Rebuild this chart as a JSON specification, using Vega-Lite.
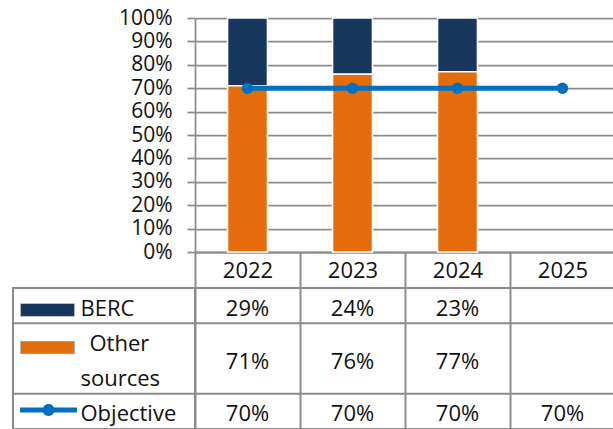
{
  "$schema": "https://vega.github.io/schema/vega-lite/v6.json",
  "padding": {"left": 11, "top": 7, "right": 0, "bottom": 0},
  "datasets": {
    "shares": [
      {"year": "2022", "series": "BERC", "value": 0.29},
      {"year": "2022", "series": "Other sources", "value": 0.71},
      {"year": "2022", "series": "Objective", "value": 0.70},
      {"year": "2023", "series": "BERC", "value": 0.24},
      {"year": "2023", "series": "Other sources", "value": 0.76},
      {"year": "2023", "series": "Objective", "value": 0.70},
      {"year": "2024", "series": "BERC", "value": 0.23},
      {"year": "2024", "series": "Other sources", "value": 0.77},
      {"year": "2024", "series": "Objective", "value": 0.70},
      {"year": "2025", "series": "Objective", "value": 0.70}
    ]
  },
  "data": {"name": "shares"},
  "columns": 2,
  "spacing": {"row": 36, "column": 0},
  "bounds": "flush",
  "align": "each",
  "concat": [
    {
      "width": 182,
      "height": 234,
      "data": {"values": []},
      "mark": "point"
    },
    {
      "width": 420,
      "height": 234,
      "encoding": {
        "x": {
          "field": "year",
          "type": "ordinal",
          "scale": {"domain": ["2022", "2023", "2024", "2025"], "paddingInner": 0, "paddingOuter": 0},
          "axis": {
            "title": null,
            "tickBand": "extent",
            "tickSize": 36,
            "tickColor": "#8c8c8c",
            "tickWidth": 2,
            "domainColor": "#8c8c8c",
            "domainWidth": 2,
            "labelFontSize": 22,
            "labelAngle": 0,
            "labelBaseline": "middle",
            "labelPadding": -18,
            "labelColor": "#111111"
          }
        },
        "y": {
          "field": "value",
          "type": "quantitative",
          "scale": {"domain": [0, 1]},
          "axis": {
            "title": null,
            "values": [0, 0.1, 0.2, 0.3, 0.4, 0.5, 0.6, 0.7, 0.8, 0.9, 1],
            "format": ".0%",
            "grid": true,
            "gridColor": "#8c8c8c",
            "gridWidth": 1.75,
            "domainColor": "#8c8c8c",
            "domainWidth": 1.75,
            "tickColor": "#8c8c8c",
            "tickWidth": 1.75,
            "tickSize": 8,
            "labelPadding": 15,
            "labelFontSize": 21,
            "labelColor": "#111111",
            "labelOverlap": false
          }
        }
      },
      "layer": [
        {
          "transform": [{"filter": "datum.series != 'Objective'"}],
          "mark": {"type": "bar", "width": {"band": 0.38}, "stroke": "white", "strokeWidth": 1.5},
          "encoding": {
            "color": {
              "field": "series",
              "type": "nominal",
              "scale": {"domain": ["BERC", "Other sources"], "range": ["#17375E", "#E46C0A"]},
              "legend": null
            },
            "order": {"field": "series", "sort": "descending"}
          }
        },
        {
          "transform": [{"filter": "datum.series == 'Objective'"}],
          "mark": {
            "type": "line",
            "color": "#0070C0",
            "strokeWidth": 5,
            "point": {"filled": true, "size": 130, "color": "#0070C0", "opacity": 1}
          }
        }
      ]
    },
    {
      "width": 182,
      "height": 141,
      "view": {"stroke": "#8c8c8c", "strokeWidth": 2},
      "encoding": {
        "y": {
          "field": "series",
          "type": "nominal",
          "scale": {"domain": ["BERC", "Other sources", "Other sources:2", "Objective"], "paddingInner": 0, "paddingOuter": 0},
          "axis": {
            "title": null,
            "domain": false,
            "ticks": false,
            "tickSize": 0,
            "grid": false,
            "labelAlign": "left",
            "labelBaseline": "middle",
            "labelOffset": 3,
            "labelPadding": {"condition": {"test": "datum.value == 'Other sources'", "value": -76}, "value": -67},
            "labelExpr": "datum.value == 'Other sources' ? 'Other' : datum.value == 'Other sources:2' ? 'sources' : datum.label",
            "labelFontSize": 22,
            "labelColor": "#111111",
            "labelLimit": 0
          }
        }
      },
      "layer": [
        {
          "transform": [{"filter": "datum.year == '2022'"}],
          "mark": {"type": "rule", "color": "#8c8c8c", "strokeWidth": 2},
          "encoding": {
            "y": {"field": "series", "type": "nominal", "bandPosition": 0}
          }
        },
        {
          "transform": [{"filter": "false"}],
          "mark": {"type": "square", "opacity": 1},
          "encoding": {
            "fill": {
              "field": "series",
              "type": "nominal",
              "scale": {"domain": ["BERC", "Other sources"], "range": ["#17375E", "#E46C0A"]},
              "legend": {
                "orient": "none",
                "legendX": 7,
                "legendY": 15.5,
                "title": null,
                "padding": 0,
                "symbolType": "M-1,-0.24H1V0.24H-1Z",
                "symbolSize": 2916,
                "clipHeight": 13,
                "rowPadding": 24.5,
                "labelExpr": "''",
                "labelFontSize": 1,
                "labelOffset": 0,
                "symbolStrokeColor": "#b4b4b4",
                "symbolStrokeWidth": 1,
                "encode": {"symbols": {"update": {"stroke": {"value": "#b4b4b4"}, "strokeWidth": {"value": 1}}}}
              }
            }
          }
        },
        {
          "transform": [{"filter": "false"}],
          "mark": {"type": "point", "filled": true, "opacity": 1},
          "encoding": {
            "color": {
              "field": "series",
              "type": "nominal",
              "scale": {"domain": ["Objective"], "range": ["#0070C0"]},
              "legend": {
                "orient": "none",
                "legendX": 6,
                "legendY": 115.5,
                "title": null,
                "padding": 0,
                "symbolType": "M-1,-0.09H1V0.09H-1Z M0,-0.21A0.21,0.21,0,1,1,0,0.21A0.21,0.21,0,1,1,0,-0.21Z",
                "symbolSize": 3249,
                "clipHeight": 13,
                "labelExpr": "''",
                "labelFontSize": 1,
                "labelOffset": 0,
                "encode": {"symbols": {"update": {"strokeWidth": {"value": 0}}}}
              }
            }
          }
        }
      ]
    },
    {
      "width": 420,
      "height": 141,
      "view": {"stroke": "#8c8c8c", "strokeWidth": 2},
      "encoding": {
        "y": {
          "field": "series",
          "type": "nominal",
          "scale": {"domain": ["BERC", "Other sources", "Other sources:2", "Objective"], "paddingInner": 0, "paddingOuter": 0},
          "axis": null
        }
      },
      "layer": [
        {
          "transform": [{"filter": "datum.year == '2022'"}],
          "mark": {"type": "rule", "color": "#8c8c8c", "strokeWidth": 2},
          "encoding": {
            "y": {"field": "series", "type": "nominal", "bandPosition": 0}
          }
        },
        {
          "transform": [{"filter": "datum.series != 'Other sources'"}],
          "mark": {"type": "text", "fontSize": 22, "color": "#111111", "dy": 3},
          "encoding": {
            "x": {
              "field": "year",
              "type": "ordinal",
              "scale": {"domain": ["2022", "2023", "2024", "2025"], "paddingInner": 0, "paddingOuter": 0},
              "axis": {
                "title": null,
                "labels": false,
                "ticks": false,
                "domain": false,
                "grid": true,
                "tickBand": "extent",
                "gridColor": "#8c8c8c",
                "gridWidth": 2
              }
            },
            "text": {"field": "value", "type": "quantitative", "format": ".0%"}
          }
        },
        {
          "transform": [{"filter": "datum.series == 'Other sources'"}],
          "mark": {"type": "text", "fontSize": 22, "color": "#111111", "dy": 3},
          "encoding": {
            "x": {"field": "year", "type": "ordinal"},
            "y": {"field": "series", "type": "nominal", "bandPosition": 1},
            "text": {"field": "value", "type": "quantitative", "format": ".0%"}
          }
        }
      ]
    }
  ],
  "resolve": {
    "scale": {"color": "independent", "fill": "independent"},
    "legend": {"color": "independent", "fill": "independent"}
  },
  "config": {
    "view": {"stroke": null},
    "font": "Open Sans",
    "axis": {"labelFont": "Open Sans"},
    "text": {"font": "Open Sans"}
  }
}
